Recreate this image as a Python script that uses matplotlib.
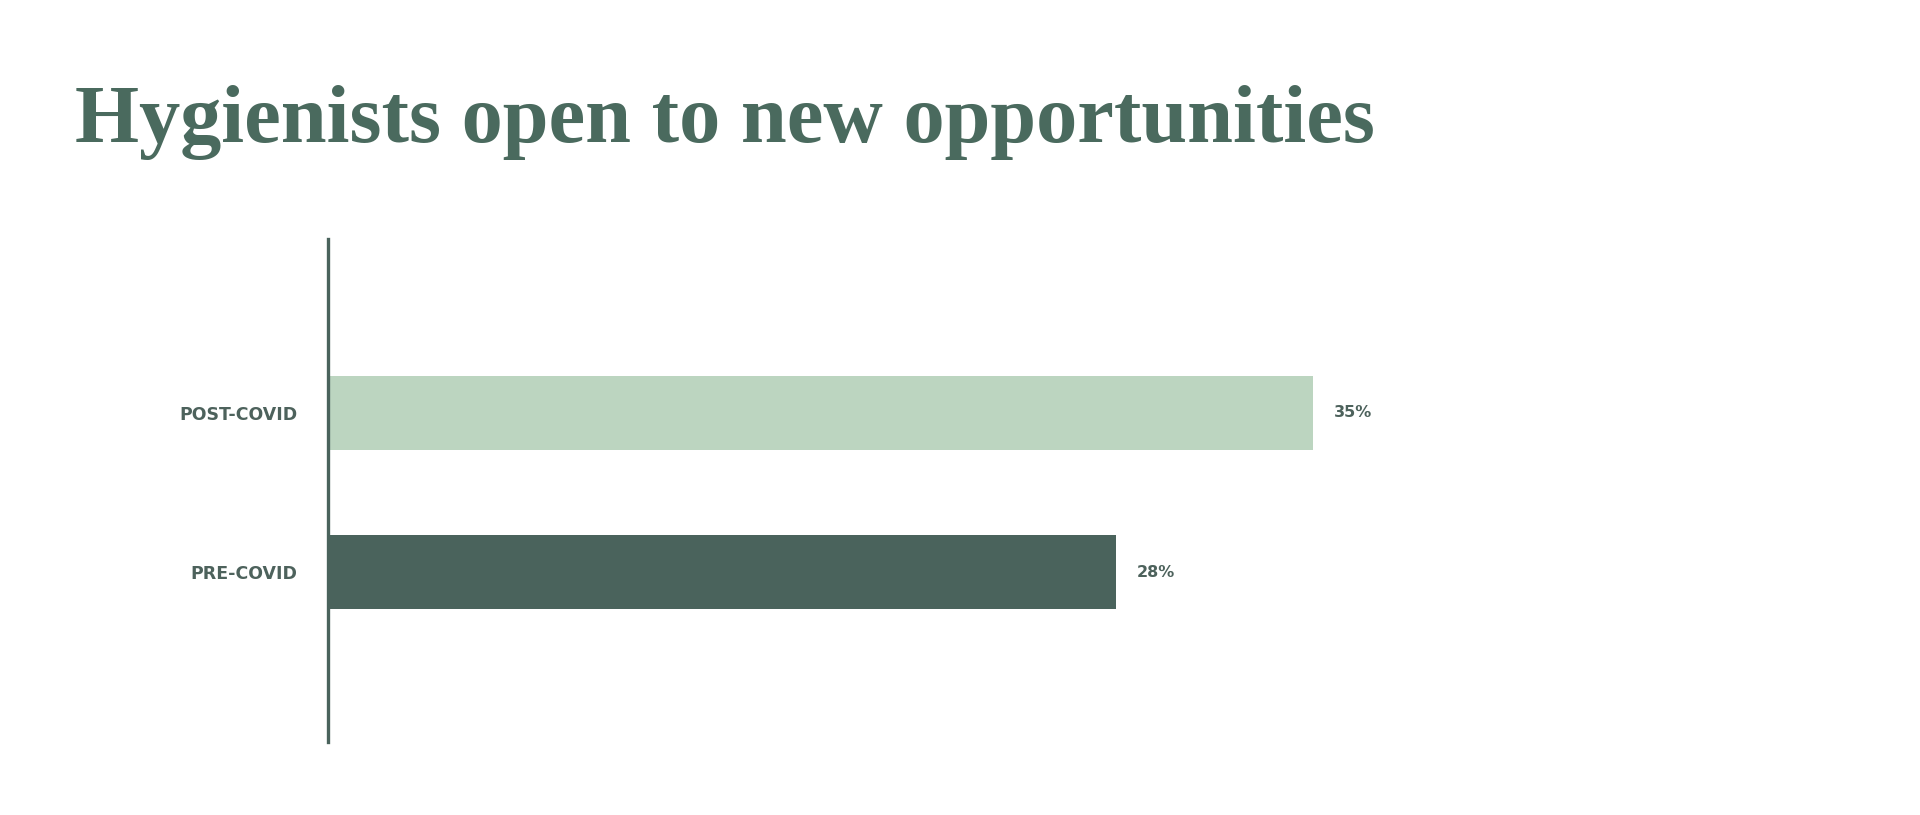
import matplotlib
matplotlib.use("Agg")
import matplotlib.pyplot as plt

categories = ["PRE-COVID", "POST-COVID"]
values = [28, 35]
value_labels = ["28%", "35%"]
title = "Hygienists open to new opportunities"

dark = "#4a635c"
light = "#bcd5c0"
text_col = "#4d625c"
title_col = "#4a6a5e"

fig = plt.figure(figsize=(19.2, 8.15), dpi=100)
fig.patch.set_facecolor("white")

ax = fig.add_axes([328/1920, 73/815, 1407/1920, 503/815])
ypos = list(range(len(categories)))
ax.barh(ypos, values, height=0.465, color=[dark, light], linewidth=0, zorder=2)
ax.set_xlim(0, 50)
ax.set_ylim(-1.069, 2.094)

for s in ["top", "right", "bottom"]:
    ax.spines[s].set_visible(False)
ax.spines["left"].set_color(dark)
ax.spines["left"].set_linewidth(2.4)
ax.spines["left"].set_zorder(3)
ax.set_xticks([])
ax.set_yticks(ypos)
ax.set_yticklabels(categories, fontfamily="DejaVu Sans", fontweight="bold",
                   fontsize=12.5, color=text_col)
ax.tick_params(axis="y", length=0, pad=22)

for y, v, lab in zip(ypos, values, value_labels):
    ax.annotate(lab, xy=(v, y), xytext=(15, 0), textcoords="offset points",
                ha="left", va="center", fontfamily="DejaVu Sans",
                fontweight="bold", fontsize=11.5, color=text_col)

fig.text(75/1920, (815-142)/815, title, ha="left", va="baseline",
         fontfamily="Liberation Serif", fontweight="bold", fontsize=59.3,
         color=title_col)

fig.savefig("out.png", dpi=100, facecolor="white")
